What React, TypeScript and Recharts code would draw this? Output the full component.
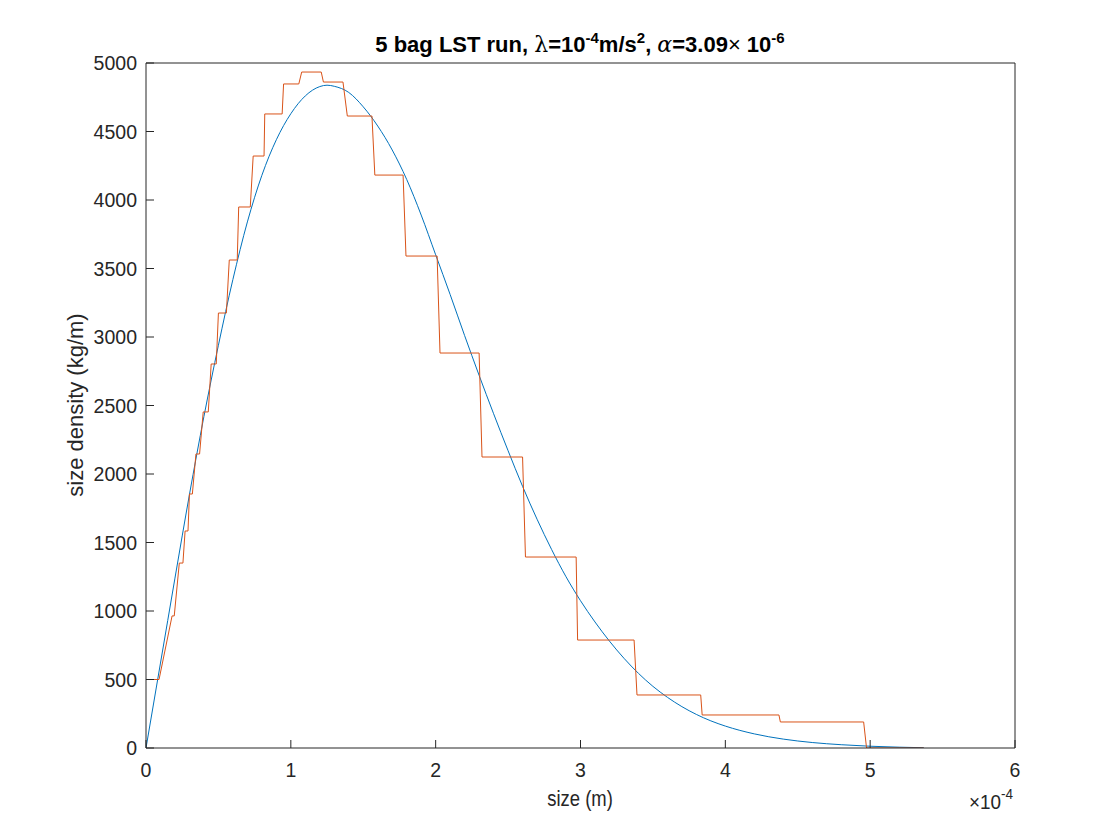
import { LineChart, Line, XAxis, YAxis } from 'recharts';

// size in units of 1e-4 m
const stepX = [
  0, 0.09, 0.18, 0.195, 0.23, 0.255, 0.27, 0.29, 0.3, 0.32, 0.345, 0.37, 0.395, 0.43, 0.45, 0.485,
  0.5, 0.555, 0.575, 0.63, 0.64, 0.72, 0.74, 0.815, 0.82, 0.94, 0.95, 1.055, 1.075, 1.21, 1.225,
  1.36, 1.39, 1.56, 1.58, 1.775, 1.795, 2.01, 2.03, 2.3, 2.32, 2.6, 2.62, 2.97, 2.98, 3.37, 3.39,
  3.83, 3.84, 4.37, 4.38, 4.955, 4.975, 5.37,
];
const stepY = [
  500, 500, 964, 964, 1350, 1350, 1584, 1584, 1854, 1854, 2146, 2146, 2453, 2453, 2803, 2803,
  3175, 3175, 3562, 3562, 3949, 3949, 4321, 4321, 4628, 4628, 4847, 4847, 4934, 4934, 4861,
  4861, 4613, 4613, 4182, 4182, 3591, 3591, 2883, 2883, 2124, 2124, 1394, 1394, 788, 788, 387,
  387, 241, 241, 190, 190, 0, 0,
];

const fitX = [
  0, 0.1, 0.2, 0.3, 0.4, 0.5, 0.6, 0.7, 0.8, 0.9, 1.0, 1.1, 1.2, 1.25, 1.3, 1.4, 1.5, 1.6, 1.7,
  1.8, 1.9, 2.0, 2.1, 2.2, 2.3, 2.4, 2.5, 2.6, 2.7, 2.8, 2.9, 3.0, 3.1, 3.2, 3.3, 3.4, 3.5, 3.6,
  3.7, 3.8, 3.9, 4.0, 4.2, 4.4, 4.6, 4.8, 5.0, 5.2, 5.37,
];
const fitY = [
  0, 620, 1240, 1850, 2420, 2940, 3420, 3840, 4180, 4440, 4630, 4760, 4828, 4838, 4830, 4785,
  4680, 4540, 4365, 4150, 3890, 3600, 3310, 3010, 2720, 2440, 2170, 1910, 1670, 1450, 1250, 1075,
  920, 780, 655, 545, 450, 370, 302, 245, 198, 160, 103, 65, 40, 24, 13, 6, 2,
];

const xTicks = [0, 1, 2, 3, 4, 5, 6];
const yTicks = [0, 500, 1000, 1500, 2000, 2500, 3000, 3500, 4000, 4500, 5000];

const stepData = stepX.map((x, i) => ({ x, y: stepY[i] }));
const fitData = fitX.map((x, i) => ({ x, y: fitY[i] }));

const INK = '#262626';
const FONT = '"Liberation Sans", Arial, Helvetica, sans-serif';
const TICK_LEN = 8;
const TICK_FONT = 19.5;

const LeftTick = (props: any) => {
  const { x, y, payload } = props;
  return (
    <g>
      <line x1={x + 9} x2={x + 9 + TICK_LEN} y1={y} y2={y} stroke={INK} strokeWidth={1} />
      <text x={x} y={y} textAnchor="end" dominantBaseline="central" fill={INK} fontSize={TICK_FONT} fontFamily={FONT}>
        {payload.value}
      </text>
    </g>
  );
};

const BottomTick = (props: any) => {
  const { x, y, payload } = props;
  return (
    <g>
      <line x1={x} x2={x} y1={y - 15} y2={y - 15 - TICK_LEN} stroke={INK} strokeWidth={1} />
      <text x={x} y={y} dy="0.71em" textAnchor="middle" fill={INK} fontSize={TICK_FONT} fontFamily={FONT}>
        {payload.value}
      </text>
    </g>
  );
};

const RightTick = (props: any) => {
  const { x, y } = props;
  return <line x1={x} x2={x - TICK_LEN} y1={y} y2={y} stroke={INK} strokeWidth={1} />;
};

const TopTick = (props: any) => {
  const { x, y } = props;
  return <line x1={x} x2={x} y1={y} y2={y + TICK_LEN} stroke={INK} strokeWidth={1} />;
};

const App = () => {
  return (
    <div style={{ position: 'absolute', left: 0, top: 0, width: 1120, height: 840, background: '#fff' }}>
      <LineChart width={1120} height={840} margin={{ top: 53, right: 95, bottom: 62, left: 86 }}>
        <XAxis
          dataKey="x"
          type="number"
          domain={[0, 6]}
          ticks={xTicks}
          allowDataOverflow
          height={30}
          tickSize={0}
          tickMargin={15}
          tickLine={false}
          axisLine={{ stroke: INK }}
          tick={<BottomTick />}
        />
        <XAxis
          xAxisId="t"
          orientation="top"
          type="number"
          domain={[0, 6]}
          ticks={xTicks}
          height={10}
          tickSize={0}
          tickMargin={0}
          tickLine={false}
          axisLine={{ stroke: INK }}
          tick={<TopTick />}
        />
        <YAxis
          type="number"
          domain={[0, 5000]}
          ticks={yTicks}
          allowDataOverflow
          width={60}
          tickSize={0}
          tickMargin={9}
          tickLine={false}
          axisLine={{ stroke: INK }}
          tick={<LeftTick />}
        />
        <YAxis
          yAxisId="r"
          orientation="right"
          type="number"
          domain={[0, 5000]}
          ticks={yTicks}
          width={10}
          tickSize={0}
          tickMargin={0}
          tickLine={false}
          axisLine={{ stroke: INK }}
          tick={<RightTick />}
        />
        <Line
          data={fitData}
          dataKey="y"
          type="monotone"
          stroke="#0072BD"
          strokeWidth={1}
          dot={false}
          isAnimationActive={false}
        />
        <Line
          data={stepData}
          dataKey="y"
          type="linear"
          stroke="#D95319"
          strokeWidth={1}
          dot={false}
          isAnimationActive={false}
        />
      </LineChart>
      <svg
        width={1120}
        height={840}
        style={{ position: 'absolute', left: 0, top: 0, pointerEvents: 'none' }}
      >
        <text x={580} y={52} textAnchor="middle" fontWeight="bold" fontSize={22} fontFamily={FONT} fill="#000">
          5 bag LST run,{' '}
          <tspan fontFamily='"DejaVu Serif", serif' fontWeight="normal">λ</tspan>=10
          <tspan dy={-9} fontSize={15}>-4</tspan>
          <tspan dy={9}>m/s</tspan>
          <tspan dy={-9} fontSize={15}>2</tspan>
          <tspan dy={9}>, </tspan>
          <tspan fontFamily='"DejaVu Serif", serif' fontStyle="italic" fontWeight="normal">α</tspan>=3.09
          <tspan fontWeight="normal">×</tspan> 10
          <tspan dy={-9} fontSize={15}>-6</tspan>
        </text>
        {/* the reference renders horizontal labels slightly condensed */}
        <text
          x={0}
          y={0}
          textAnchor="middle"
          fontSize={22}
          fontFamily={FONT}
          fill={INK}
          transform="translate(580 806) scale(0.84 1)"
        >
          size (m)
        </text>
        <text
          x={83}
          y={405}
          textAnchor="middle"
          fontSize={22}
          fontFamily={FONT}
          fill={INK}
          transform="rotate(-90 83 405)"
        >
          size density (kg/m)
        </text>
        <text
          x={0}
          y={0}
          textAnchor="end"
          fontSize={21}
          fontFamily={FONT}
          fill={INK}
          transform="translate(1013 809) scale(0.9 1)"
        >
          ×10<tspan dy={-10} fontSize={15}>-4</tspan>
        </text>
      </svg>
    </div>
  );
};

export default App;
